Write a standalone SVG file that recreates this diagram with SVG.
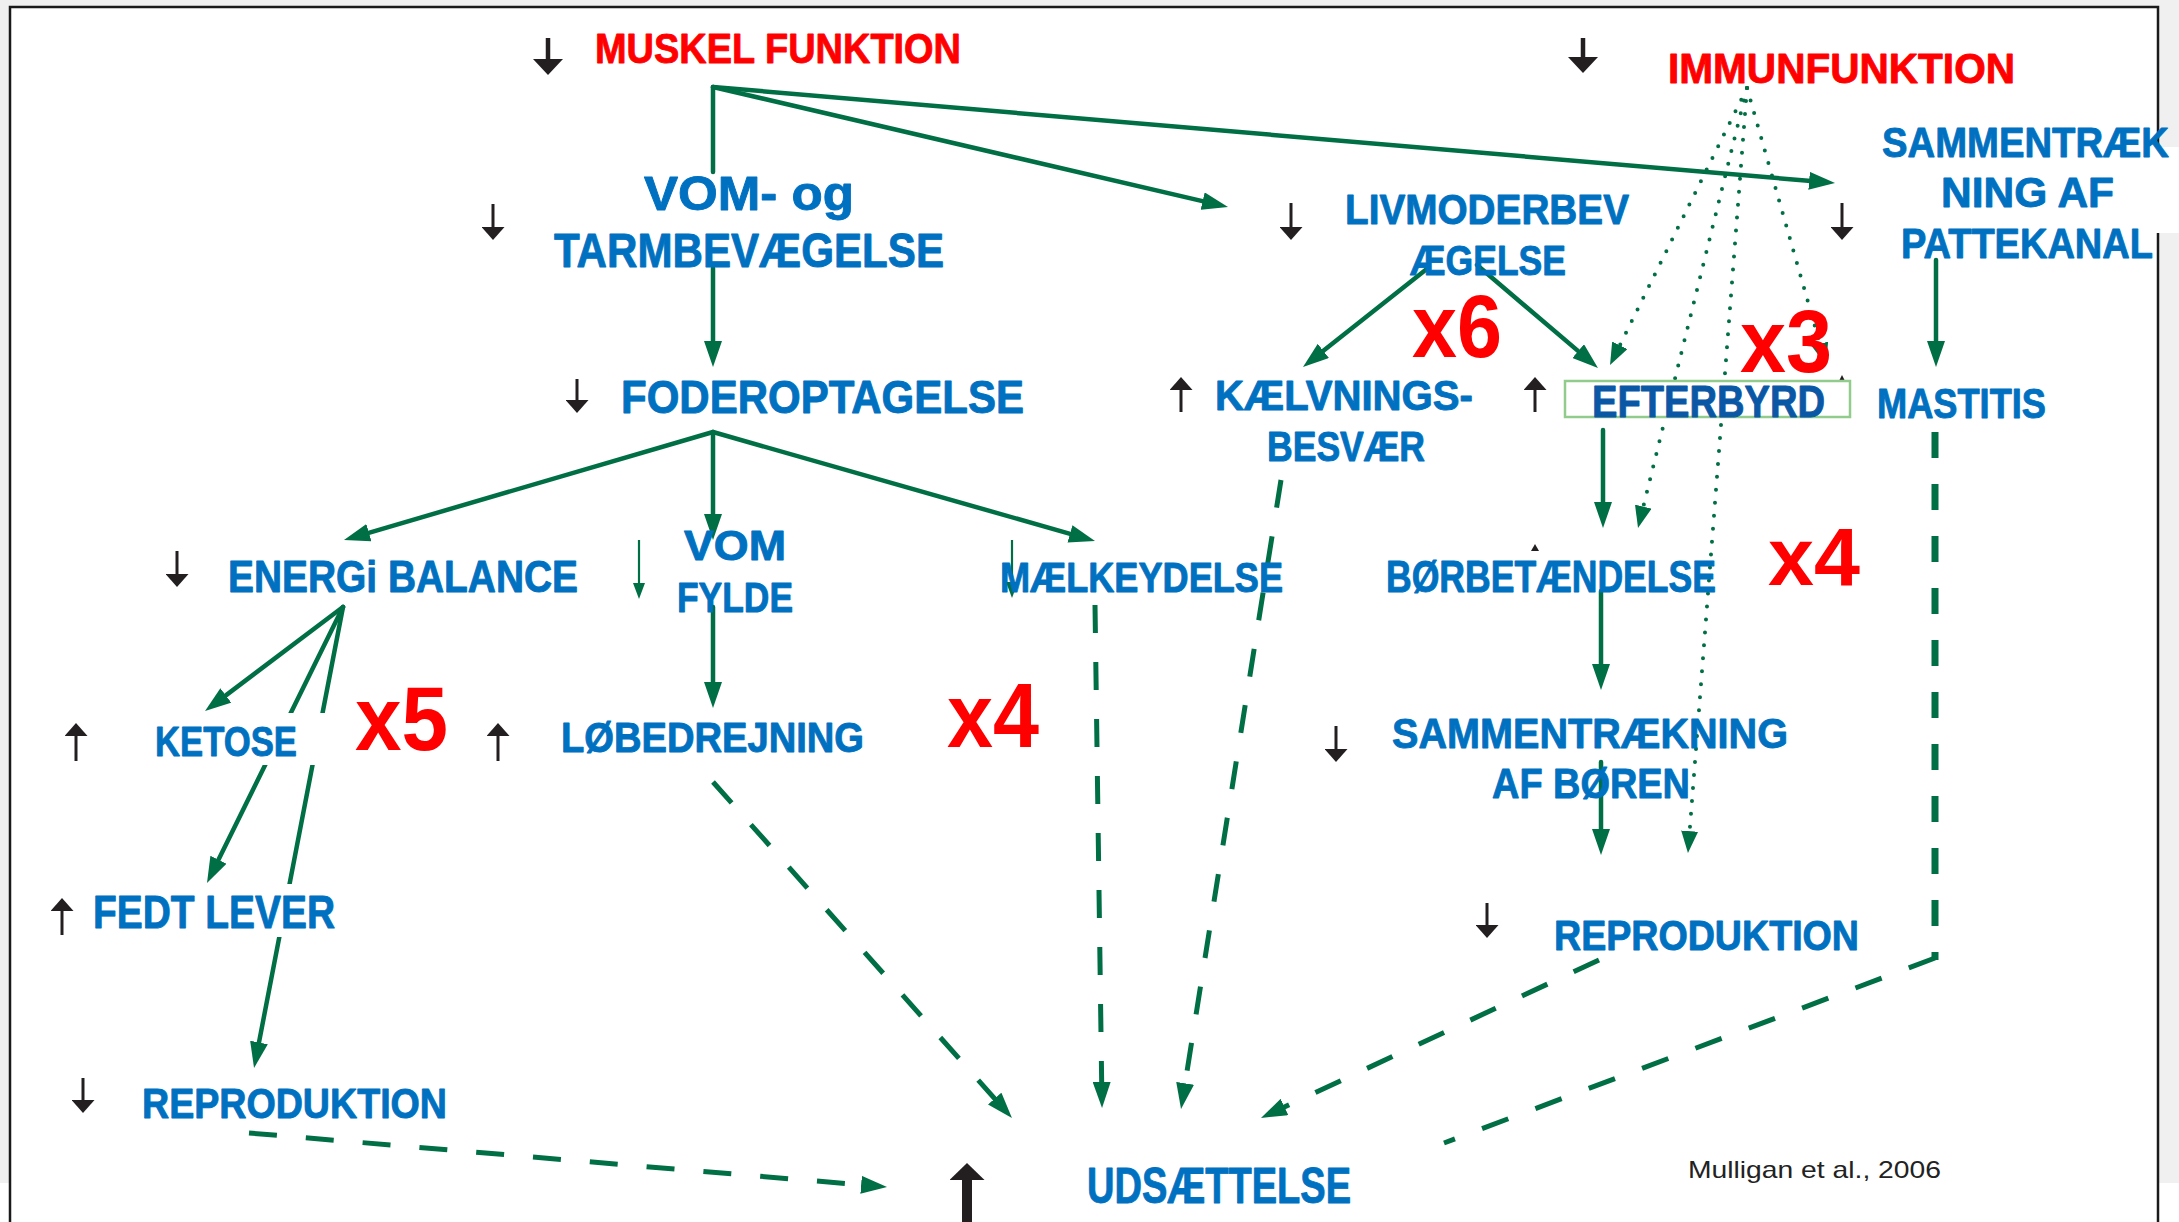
<svg xmlns="http://www.w3.org/2000/svg" width="2179" height="1222" viewBox="0 0 2179 1222">
<style>
.t{font-family:"Liberation Sans",Arial,sans-serif;font-weight:bold;fill:#0070C0;stroke:#0070C0;stroke-width:0.9;stroke-linejoin:round}
.red{fill:#FF0000;stroke:#FF0000}
.dk{fill:#0A57A5;stroke:#0A57A5}
.big{font-family:"Liberation Sans",Arial,sans-serif;font-weight:bold;fill:#FF0000}
.cite{font-family:"Liberation Sans",Arial,sans-serif;fill:#222222}
.g{stroke:#006F45;stroke-width:4.5;fill:none;stroke-linecap:round}
.gt{stroke:#006F45;stroke-width:2.2;fill:none}
.dot{stroke:#006F45;stroke-width:4;fill:none;stroke-linecap:round;stroke-dasharray:0 13}
.dash{stroke:#006F45;stroke-width:5;fill:none;stroke-dasharray:28 29}
.dashw{stroke:#006F45;stroke-width:7;fill:none;stroke-dasharray:26 26}
.bk{stroke:#231F20;stroke-width:3;fill:none}
.bkL{stroke:#231F20;stroke-width:4.5;fill:none}
.bkXL{stroke:#231F20;stroke-width:10;fill:none}
.wb{fill:#FFFFFF}
</style>
<defs>
<marker id="ah" markerUnits="userSpaceOnUse" markerWidth="26" markerHeight="18" viewBox="0 0 26 18" refX="2" refY="9" orient="auto"><path d="M0,0L26,9L0,18z" fill="#006F45"/></marker>
<marker id="ahd" markerUnits="userSpaceOnUse" markerWidth="22" markerHeight="17" viewBox="0 0 22 17" refX="2" refY="8.5" orient="auto"><path d="M0,0L22,8.5L0,17z" fill="#006F45"/></marker>
<marker id="ahs" markerUnits="userSpaceOnUse" markerWidth="16" markerHeight="12" viewBox="0 0 16 12" refX="1" refY="6" orient="auto"><path d="M0,0L16,6L0,12z" fill="#006F45"/></marker>
<marker id="bh" markerUnits="userSpaceOnUse" markerWidth="13" markerHeight="23" viewBox="0 0 13 23" refX="1" refY="11.5" orient="auto"><path d="M0,0L13,11.5L0,23z" fill="#231F20"/></marker>
<marker id="bhL" markerUnits="userSpaceOnUse" markerWidth="16" markerHeight="30" viewBox="0 0 16 30" refX="1" refY="15" orient="auto"><path d="M0,0L16,15L0,30z" fill="#231F20"/></marker>
<marker id="bhXL" markerUnits="userSpaceOnUse" markerWidth="17" markerHeight="35" viewBox="0 0 17 35" refX="1" refY="17.5" orient="auto"><path d="M0,0L17,17.5L0,35z" fill="#231F20"/></marker>
</defs>

<rect x="0" y="0" width="2179" height="1183" fill="#F0F0F0"/>
<rect x="10" y="7" width="2148" height="1240" fill="#FFFFFF" stroke="#1A1A1A" stroke-width="2.5"/>

<g id="connectors">
  <line class="g" x1="713" y1="87" x2="713" y2="172"/>
  <line class="g" x1="713" y1="268" x2="713" y2="343" marker-end="url(#ah)"/>
  <line class="g" x1="713" y1="87" x2="1204.6" y2="201.6" marker-end="url(#ah)"/>
  <line class="g" x1="713" y1="87" x2="1811.1" y2="181" marker-end="url(#ah)"/>
  <line class="g" x1="713" y1="432" x2="367" y2="533.3" marker-end="url(#ah)"/>
  <line class="g" x1="713" y1="432" x2="713" y2="516" marker-end="url(#ah)"/>
  <line class="g" x1="713" y1="432" x2="1071.9" y2="534.4" marker-end="url(#ah)"/>
  <line class="g" x1="713" y1="607" x2="713" y2="684" marker-end="url(#ah)"/>
  <line class="g" x1="343" y1="607" x2="224.2" y2="696.6" marker-end="url(#ah)"/>
  <line class="g" x1="343" y1="607" x2="217.6" y2="861.5" marker-end="url(#ah)"/>
  <line class="g" x1="343" y1="607" x2="258.6" y2="1044.4" marker-end="url(#ah)"/>
  <line class="g" x1="1428" y1="268" x2="1321.8" y2="352.1" marker-end="url(#ah)"/>
  <line class="g" x1="1477" y1="265" x2="1579.7" y2="352.4" marker-end="url(#ah)"/>
  <line class="g" x1="1936" y1="260" x2="1936" y2="343" stroke-width="7" marker-end="url(#ah)"/>
  <line class="g" x1="1603" y1="430" x2="1603" y2="504" marker-end="url(#ah)"/>
  <line class="g" x1="1601" y1="591" x2="1601" y2="666" marker-end="url(#ah)"/>
  <line class="g" x1="1601" y1="762" x2="1601" y2="831" marker-end="url(#ah)"/>
  <line class="gt" x1="639" y1="540" x2="639" y2="584" marker-end="url(#ahs)"/>
  <line class="gt" x1="1012" y1="540" x2="1012" y2="583" marker-end="url(#ahs)"/>
  <line class="dot" x1="1747" y1="88" x2="1618.9" y2="347.1" marker-end="url(#ahd)"/>
  <line class="dot" x1="1747" y1="88" x2="1642.8" y2="508.6" marker-end="url(#ahd)"/>
  <line class="dot" x1="1747" y1="88" x2="1689.5" y2="833.1" marker-end="url(#ahd)"/>
  <line class="dot" x1="1747" y1="88" x2="1820.5" y2="345.8" marker-end="url(#ahd)"/>
  <line class="dash" x1="249" y1="1133" x2="863.1" y2="1185" marker-end="url(#ah)"/>
  <line class="dash" x1="713" y1="782" x2="996" y2="1100.1" marker-end="url(#ah)"/>
  <line class="dash" x1="1095" y1="605" x2="1101.7" y2="1084" marker-end="url(#ah)"/>
  <line class="dash" x1="1281" y1="480" x2="1184.8" y2="1085.3" marker-end="url(#ah)"/>
  <line class="dash" x1="1599" y1="960" x2="1282.7" y2="1107.8" marker-end="url(#ah)"/>
  <line class="dashw" x1="1935" y1="432" x2="1935" y2="960"/>
  <line class="dash" x1="1935" y1="958" x2="1444" y2="1143"/>
  <line class="bkL" x1="548" y1="38" x2="548" y2="60" marker-end="url(#bhL)"/>
  <line class="bkL" x1="1583" y1="38" x2="1583" y2="58" marker-end="url(#bhL)"/>
  <line class="bk" x1="493" y1="204" x2="493" y2="228" marker-end="url(#bh)"/>
  <line class="bk" x1="577" y1="379" x2="577" y2="401" marker-end="url(#bh)"/>
  <line class="bk" x1="177" y1="551" x2="177" y2="575" marker-end="url(#bh)"/>
  <line class="bk" x1="76" y1="761" x2="76" y2="735" marker-end="url(#bh)"/>
  <line class="bk" x1="498" y1="761" x2="498" y2="735" marker-end="url(#bh)"/>
  <line class="bk" x1="62" y1="935" x2="62" y2="910" marker-end="url(#bh)"/>
  <line class="bk" x1="83" y1="1078" x2="83" y2="1101" marker-end="url(#bh)"/>
  <line class="bk" x1="1181" y1="412" x2="1181" y2="389" marker-end="url(#bh)"/>
  <line class="bk" x1="1291" y1="203" x2="1291" y2="228" marker-end="url(#bh)"/>
  <line class="bk" x1="1535" y1="412" x2="1535" y2="389" marker-end="url(#bh)"/>
  <line class="bk" x1="1842" y1="203" x2="1842" y2="228" marker-end="url(#bh)"/>
  <line class="bk" x1="1336" y1="726" x2="1336" y2="750" marker-end="url(#bh)"/>
  <line class="bk" x1="1487" y1="903" x2="1487" y2="926" marker-end="url(#bh)"/>
  <line class="bkXL" x1="967" y1="1240" x2="967" y2="1179" marker-end="url(#bhXL)"/>
  <polygon points="1531,551 1539,551 1535,544" fill="#231F20"/>
  <polygon points="1839,381 1845,381 1842,375" fill="#231F20"/>
</g>

<g id="n-muskel"><text class="t red" x="595" y="63" font-size="43" textLength="366" lengthAdjust="spacingAndGlyphs">MUSKEL FUNKTION</text></g>
<g id="n-immun"><text class="t red" x="1668" y="83" font-size="43" textLength="347" lengthAdjust="spacingAndGlyphs">IMMUNFUNKTION</text></g>
<g id="n-vom-tarm">
  <text class="t" x="644" y="210" font-size="49" textLength="210" lengthAdjust="spacingAndGlyphs">VOM- og</text>
  <text class="t" x="554" y="267" font-size="49" textLength="390" lengthAdjust="spacingAndGlyphs">TARMBEVÆGELSE</text>
</g>
<g id="n-livmoder">
  <text class="t" x="1345" y="224" font-size="43" textLength="284" lengthAdjust="spacingAndGlyphs">LIVMODERBEV</text>
  <text class="t" x="1410" y="275" font-size="43" textLength="156" lengthAdjust="spacingAndGlyphs">ÆGELSE</text>
</g>
<g id="n-patte">
  <rect class="wb" x="1876" y="147" width="303" height="86"/>
  <text class="t" x="1882" y="157" font-size="43" textLength="287" lengthAdjust="spacingAndGlyphs">SAMMENTRÆK</text>
  <text class="t" x="1941" y="207" font-size="43" textLength="173" lengthAdjust="spacingAndGlyphs">NING AF</text>
  <text class="t" x="1901" y="258" font-size="43" textLength="252" lengthAdjust="spacingAndGlyphs">PATTEKANAL</text>
</g>
<g id="n-foder"><text class="t" x="621" y="413" font-size="46" textLength="403" lengthAdjust="spacingAndGlyphs">FODEROPTAGELSE</text></g>
<g id="n-kaelvning">
  <text class="t" x="1215" y="410" font-size="42" textLength="258" lengthAdjust="spacingAndGlyphs">KÆLVNINGS-</text>
  <text class="t" x="1267" y="461" font-size="42" textLength="158" lengthAdjust="spacingAndGlyphs">BESVÆR</text>
</g>
<g id="n-efterbyrd">
  <rect x="1565" y="381" width="285" height="36" fill="#FFFFFF" stroke="#92CC8C" stroke-width="2.5"/>
  <text class="t dk" x="1592" y="417" font-size="45" textLength="233" lengthAdjust="spacingAndGlyphs">EFTERBYRD</text>
</g>
<g id="n-mastitis"><text class="t" x="1877" y="418" font-size="42" textLength="169" lengthAdjust="spacingAndGlyphs">MASTITIS</text></g>
<g id="n-energi"><text class="t" x="228" y="592" font-size="44" textLength="350" lengthAdjust="spacingAndGlyphs">ENERGi BALANCE</text></g>
<g id="n-vomfylde">
  <text class="t" x="684" y="560" font-size="42" textLength="102" lengthAdjust="spacingAndGlyphs">VOM</text>
  <text class="t" x="677" y="612" font-size="42" textLength="116" lengthAdjust="spacingAndGlyphs">FYLDE</text>
</g>
<g id="n-maelk"><text class="t" x="1000" y="592" font-size="42" textLength="283" lengthAdjust="spacingAndGlyphs">MÆLKEYDELSE</text></g>
<g id="n-borbet"><text class="t" x="1386" y="592" font-size="44" textLength="330" lengthAdjust="spacingAndGlyphs">BØRBETÆNDELSE</text></g>
<g id="n-ketose">
  <rect class="wb" x="150" y="713" width="180" height="52"/>
  <text class="t" x="155" y="756" font-size="43" textLength="142" lengthAdjust="spacingAndGlyphs">KETOSE</text>
</g>
<g id="n-lobe"><text class="t" x="561" y="752" font-size="42" textLength="303" lengthAdjust="spacingAndGlyphs">LØBEDREJNING</text></g>
<g id="n-sammenboren">
  <text class="t" x="1392" y="748" font-size="43" textLength="396" lengthAdjust="spacingAndGlyphs">SAMMENTRÆKNING</text>
  <text class="t" x="1492" y="798" font-size="43" textLength="198" lengthAdjust="spacingAndGlyphs">AF BØREN</text>
</g>
<g id="n-fedt">
  <rect class="wb" x="90" y="884" width="255" height="53"/>
  <text class="t" x="93" y="928" font-size="46" textLength="242" lengthAdjust="spacingAndGlyphs">FEDT LEVER</text>
</g>
<g id="n-repro-r"><text class="t" x="1554" y="950" font-size="42" textLength="305" lengthAdjust="spacingAndGlyphs">REPRODUKTION</text></g>
<g id="n-repro-l"><text class="t" x="142" y="1118" font-size="42" textLength="305" lengthAdjust="spacingAndGlyphs">REPRODUKTION</text></g>
<g id="n-udsaet"><text class="t" x="1087" y="1203" font-size="50" textLength="264" lengthAdjust="spacingAndGlyphs">UDSÆTTELSE</text></g>

<g id="factors">
  <text class="big" x="1412" y="357" font-size="89" textLength="90" lengthAdjust="spacingAndGlyphs">x6</text>
  <text class="big" x="1740" y="372" font-size="89" textLength="92" lengthAdjust="spacingAndGlyphs">x3</text>
  <text class="big" x="1768" y="585" font-size="81" textLength="92" lengthAdjust="spacingAndGlyphs">x4</text>
  <text class="big" x="355" y="750" font-size="91" textLength="93" lengthAdjust="spacingAndGlyphs">x5</text>
  <text class="big" x="947" y="747" font-size="91" textLength="92" lengthAdjust="spacingAndGlyphs">x4</text>
</g>
<g id="citation"><text class="cite" x="1688" y="1178" font-size="24" textLength="253" lengthAdjust="spacingAndGlyphs">Mulligan et al., 2006</text></g>
</svg>
